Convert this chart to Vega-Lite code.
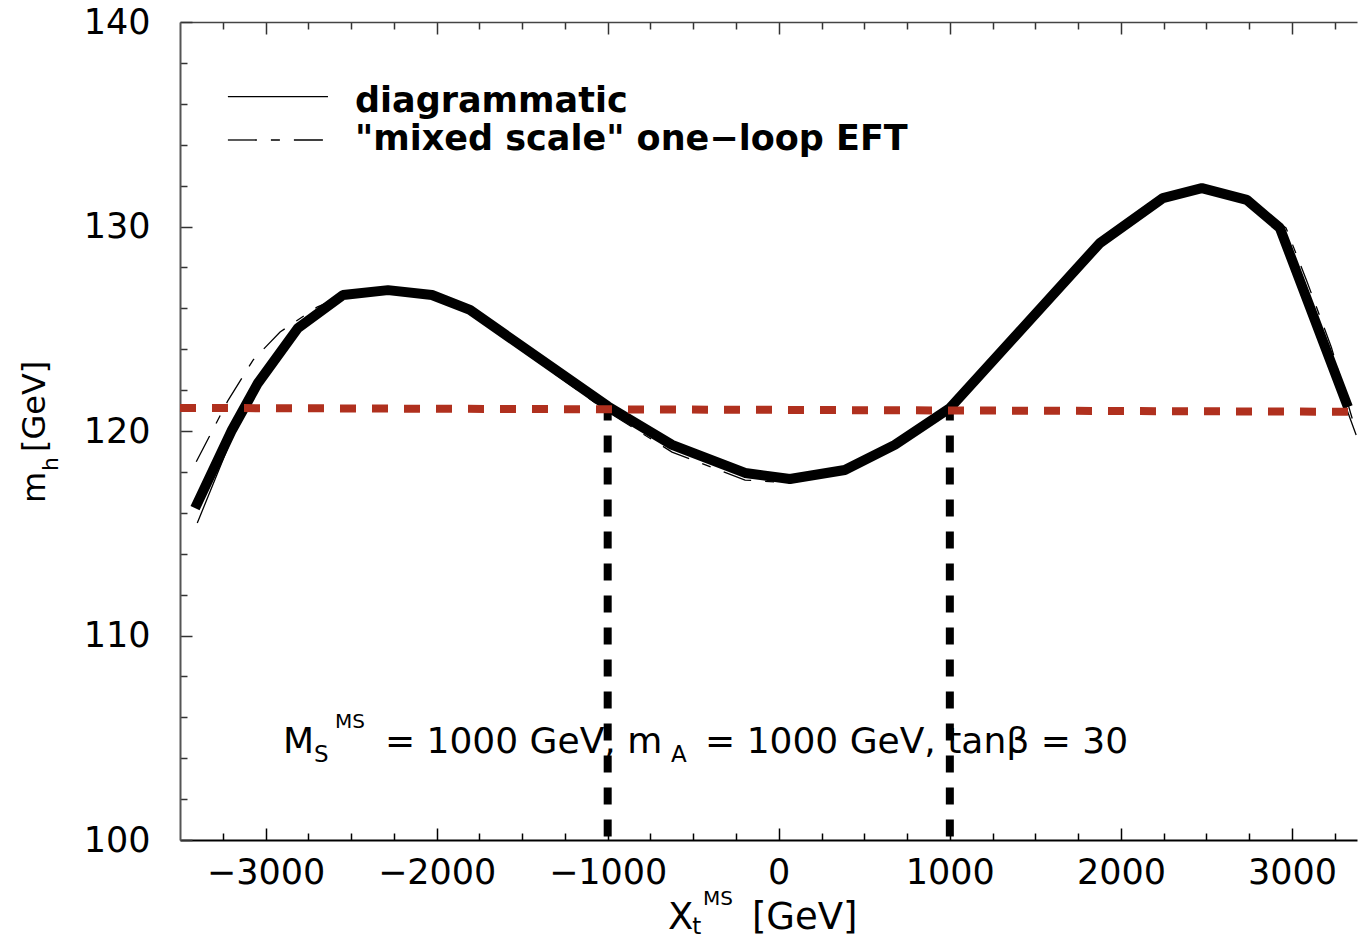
{
  "$schema": "https://vega.github.io/schema/vega-lite/v6.json",
  "width": 1177,
  "height": 818,
  "autosize": {"type": "none"},
  "padding": {"left": 180, "top": 22, "right": 2, "bottom": 98},
  "background": "white",
  "config": {"view": {"stroke": null}, "font": "DejaVu Sans"},
  "datasets": {
    "thick": [
      {"x": -3412, "y": 116.23}, {"x": -3196, "y": 120.05}, {"x": -3044, "y": 122.35},
      {"x": -2810, "y": 125.04}, {"x": -2547, "y": 126.65}, {"x": -2284, "y": 126.89},
      {"x": -2027, "y": 126.65}, {"x": -1805, "y": 125.92}, {"x": -998, "y": 121.2},
      {"x": -624, "y": 119.32}, {"x": -197, "y": 117.95}, {"x": 65, "y": 117.65},
      {"x": 386, "y": 118.09}, {"x": 678, "y": 119.32}, {"x": 1000, "y": 121.12},
      {"x": 1877, "y": 129.19}, {"x": 2245, "y": 131.39}, {"x": 2473, "y": 131.88},
      {"x": 2736, "y": 131.3}, {"x": 2929, "y": 129.93}, {"x": 3327, "y": 121.17}
    ],
    "diag": [
      {"x": -3399, "y": 115.5}, {"x": -3190, "y": 119.8}, {"x": -3040, "y": 122.2},
      {"x": -2800, "y": 124.95}, {"x": -2540, "y": 126.6}, {"x": -2280, "y": 126.88},
      {"x": -2020, "y": 126.6}, {"x": -1800, "y": 125.8}, {"x": -1000, "y": 121.1},
      {"x": -620, "y": 119.2}, {"x": -200, "y": 117.8}, {"x": 60, "y": 117.55},
      {"x": 390, "y": 118.0}, {"x": 680, "y": 119.25}, {"x": 1000, "y": 121.05},
      {"x": 1880, "y": 129.2}, {"x": 2245, "y": 131.4}, {"x": 2475, "y": 131.9},
      {"x": 2740, "y": 131.3}, {"x": 2935, "y": 129.9}, {"x": 3375, "y": 119.8}
    ],
    "mixed": [
      {"x": -3405, "y": 118.5}, {"x": -3219, "y": 121.5}, {"x": -3073, "y": 123.47},
      {"x": -2915, "y": 124.84}, {"x": -2699, "y": 126.06}, {"x": -2535, "y": 126.65},
      {"x": -2284, "y": 126.85}, {"x": -2027, "y": 126.55}, {"x": -1805, "y": 125.77},
      {"x": -998, "y": 120.93}, {"x": -624, "y": 118.97}, {"x": -197, "y": 117.6},
      {"x": 65, "y": 117.46}, {"x": 386, "y": 117.95}, {"x": 678, "y": 119.22},
      {"x": 1000, "y": 121.03}, {"x": 1877, "y": 129.19}, {"x": 2245, "y": 131.44},
      {"x": 2473, "y": 131.98}, {"x": 2736, "y": 131.39}, {"x": 2965, "y": 129.93},
      {"x": 3088, "y": 127.3}, {"x": 3230, "y": 124.1}, {"x": 3375, "y": 119.95}
    ],
    "red": [{"x": -3500, "y": 121.13}, {"x": 3328, "y": 120.94}],
    "vlines": [{"x": -1000, "y": 121.0, "y2": 100}, {"x": 1000, "y": 121.0, "y2": 100}],
    "legDiag": [{"x": -3220, "x2": -2635, "y": 136.35}],
    "legMixed": [{"x": -3220, "x2": -2635, "y": 134.23}],
    "legText": [
      {"x": -2477, "y": 135.61, "t": "diagrammatic"},
      {"x": -2477, "y": 133.74, "t": "\"mixed scale\" one−loop EFT"}
    ],
    "mainText": [
      {"x": -2898, "y": 104.25, "t": "M"},
      {"x": -2302, "y": 104.25, "t": "= 1000 GeV, m"},
      {"x": -431, "y": 104.25, "t": "= 1000 GeV, tanβ = 30"}
    ],
    "subText": [
      {"x": -2717, "y": 103.81, "t": "S"},
      {"x": -630, "y": 103.81, "t": "A"},
      {"x": -506, "y": 95.4, "t": "t"}
    ],
    "supText": [
      {"x": -2594, "y": 105.48, "t": "MS"},
      {"x": -443, "y": 96.82, "t": "MS"}
    ],
    "xTitle": [
      {"x": -647, "y": 95.65, "t": "X"},
      {"x": -157, "y": 95.65, "t": "[GeV]"}
    ],
    "yTitle": [
      {"x": -4289, "y": 116.48, "t": "m"},
      {"x": -4289, "y": 118.97, "t": "[GeV]"}
    ],
    "yTitleSub": [
      {"x": -4213, "y": 118.04, "t": "h"}
    ]
  },
  "layer": [
    {
      "data": {"name": "diag"},
      "mark": {"type": "line", "color": "black", "strokeWidth": 1.3},
      "encoding": {
        "x": {"field": "x", "type": "quantitative", "scale": {"domain": [-3500, 3380], "nice": false, "zero": false},
          "axis": {"orient": "bottom", "title": null, "grid": false,
            "values": [-3250,-3000,-2750,-2500,-2250,-2000,-1750,-1500,-1250,-1000,-750,-500,-250,0,250,500,750,1000,1250,1500,1750,2000,2250,2500,2750,3000,3250],
            "labelExpr": "datum.value % 1000 == 0 ? format(datum.value, 'd') : ''",
            "tickSize": {"condition": {"test": "datum.value % 1000 == 0", "value": -12}, "value": -7},
            "tickColor": "black", "tickWidth": 1.5, "domainColor": "black", "domainWidth": 2,
            "labelFont": "DejaVu Sans", "labelFontSize": 35, "labelColor": "black", "labelPadding": 27,
            "labelFlush": false, "labelOverlap": false, "labelBound": false}},
        "y": {"field": "y", "type": "quantitative", "scale": {"domain": [100, 140], "nice": false, "zero": false},
          "axis": {"orient": "left", "title": null, "grid": false,
            "values": [100,102,104,106,108,110,112,114,116,118,120,122,124,126,128,130,132,134,136,138,140],
            "labelExpr": "datum.value % 10 == 0 ? format(datum.value, 'd') : ''",
            "tickSize": {"condition": {"test": "datum.value % 10 == 0", "value": -12}, "value": -7},
            "tickColor": "#333", "tickWidth": 1.5, "domainColor": "#555", "domainWidth": 2,
            "labelFont": "DejaVu Sans", "labelFontSize": 35, "labelColor": "black", "labelPadding": 42,
            "labelFlush": false, "labelOverlap": false, "labelBound": false}}
      }
    },
    {
      "data": {"name": "mixed"},
      "mark": {"type": "line", "color": "black", "strokeWidth": 1.3, "strokeDash": [29, 14, 9, 14]},
      "encoding": {
        "x": {"field": "x", "type": "quantitative", "scale": {"domain": [-3500, 3380], "nice": false, "zero": false},
          "axis": {"orient": "top", "title": null, "grid": false, "labels": false,
            "values": [-3250,-3000,-2750,-2500,-2250,-2000,-1750,-1500,-1250,-1000,-750,-500,-250,0,250,500,750,1000,1250,1500,1750,2000,2250,2500,2750,3000,3250],
            "tickSize": {"condition": {"test": "datum.value % 1000 == 0", "value": -12}, "value": -7},
            "tickColor": "#333", "tickWidth": 1.5, "domainColor": "#444", "domainWidth": 1.5}},
        "y": {"field": "y", "type": "quantitative", "scale": {"domain": [100, 140], "nice": false, "zero": false}, "axis": null}
      }
    },
    {
      "data": {"name": "thick"},
      "mark": {"type": "line", "color": "black", "strokeWidth": 10, "strokeJoin": "bevel", "strokeCap": "butt"},
      "encoding": {
        "x": {"field": "x", "type": "quantitative", "scale": {"domain": [-3500, 3380], "nice": false, "zero": false}, "axis": null},
        "y": {"field": "y", "type": "quantitative", "scale": {"domain": [100, 140], "nice": false, "zero": false}, "axis": null}
      }
    },
    {
      "data": {"name": "vlines"},
      "mark": {"type": "rule", "color": "black", "strokeWidth": 8, "strokeDash": [17, 15], "strokeDashOffset": 7},
      "encoding": {
        "x": {"field": "x", "type": "quantitative", "scale": {"domain": [-3500, 3380], "nice": false, "zero": false}, "axis": null},
        "y": {"field": "y", "type": "quantitative", "scale": {"domain": [100, 140], "nice": false, "zero": false}, "axis": null},
        "y2": {"field": "y2"}
      }
    },
    {
      "data": {"name": "red"},
      "mark": {"type": "line", "color": "#b0301e", "strokeWidth": 8, "strokeDash": [16, 16]},
      "encoding": {
        "x": {"field": "x", "type": "quantitative", "scale": {"domain": [-3500, 3380], "nice": false, "zero": false}, "axis": null},
        "y": {"field": "y", "type": "quantitative", "scale": {"domain": [100, 140], "nice": false, "zero": false}, "axis": null}
      }
    },
    {
      "data": {"name": "legDiag"},
      "mark": {"type": "rule", "color": "black", "strokeWidth": 1.3},
      "encoding": {
        "x": {"field": "x", "type": "quantitative", "scale": {"domain": [-3500, 3380], "nice": false, "zero": false}, "axis": null},
        "x2": {"field": "x2"},
        "y": {"field": "y", "type": "quantitative", "scale": {"domain": [100, 140], "nice": false, "zero": false}, "axis": null}
      }
    },
    {
      "data": {"name": "legMixed"},
      "mark": {"type": "rule", "color": "black", "strokeWidth": 1.3, "strokeDash": [29, 14, 9, 14]},
      "encoding": {
        "x": {"field": "x", "type": "quantitative", "scale": {"domain": [-3500, 3380], "nice": false, "zero": false}, "axis": null},
        "x2": {"field": "x2"},
        "y": {"field": "y", "type": "quantitative", "scale": {"domain": [100, 140], "nice": false, "zero": false}, "axis": null}
      }
    },
    {
      "data": {"name": "legText"},
      "mark": {"type": "text", "font": "DejaVu Sans", "fontWeight": "bold", "fontSize": 35, "align": "left", "baseline": "alphabetic", "color": "black"},
      "encoding": {
        "x": {"field": "x", "type": "quantitative", "scale": {"domain": [-3500, 3380], "nice": false, "zero": false}, "axis": null},
        "y": {"field": "y", "type": "quantitative", "scale": {"domain": [100, 140], "nice": false, "zero": false}, "axis": null},
        "text": {"field": "t"}
      }
    },
    {
      "data": {"name": "mainText"},
      "mark": {"type": "text", "font": "DejaVu Sans", "fontSize": 36, "align": "left", "baseline": "alphabetic", "color": "black"},
      "encoding": {
        "x": {"field": "x", "type": "quantitative", "scale": {"domain": [-3500, 3380], "nice": false, "zero": false}, "axis": null},
        "y": {"field": "y", "type": "quantitative", "scale": {"domain": [100, 140], "nice": false, "zero": false}, "axis": null},
        "text": {"field": "t"}
      }
    },
    {
      "data": {"name": "subText"},
      "mark": {"type": "text", "font": "DejaVu Sans", "fontSize": 23, "align": "left", "baseline": "alphabetic", "color": "black"},
      "encoding": {
        "x": {"field": "x", "type": "quantitative", "scale": {"domain": [-3500, 3380], "nice": false, "zero": false}, "axis": null},
        "y": {"field": "y", "type": "quantitative", "scale": {"domain": [100, 140], "nice": false, "zero": false}, "axis": null},
        "text": {"field": "t"}
      }
    },
    {
      "data": {"name": "supText"},
      "mark": {"type": "text", "font": "DejaVu Sans", "fontSize": 20, "align": "left", "baseline": "alphabetic", "color": "black"},
      "encoding": {
        "x": {"field": "x", "type": "quantitative", "scale": {"domain": [-3500, 3380], "nice": false, "zero": false}, "axis": null},
        "y": {"field": "y", "type": "quantitative", "scale": {"domain": [100, 140], "nice": false, "zero": false}, "axis": null},
        "text": {"field": "t"}
      }
    },
    {
      "data": {"name": "xTitle"},
      "mark": {"type": "text", "font": "DejaVu Sans", "fontSize": 37, "align": "left", "baseline": "alphabetic", "color": "black"},
      "encoding": {
        "x": {"field": "x", "type": "quantitative", "scale": {"domain": [-3500, 3380], "nice": false, "zero": false}, "axis": null},
        "y": {"field": "y", "type": "quantitative", "scale": {"domain": [100, 140], "nice": false, "zero": false}, "axis": null},
        "text": {"field": "t"}
      }
    },
    {
      "data": {"name": "yTitle"},
      "mark": {"type": "text", "font": "DejaVu Sans", "fontSize": 32, "align": "left", "baseline": "alphabetic", "angle": 270, "color": "black"},
      "encoding": {
        "x": {"field": "x", "type": "quantitative", "scale": {"domain": [-3500, 3380], "nice": false, "zero": false}, "axis": null},
        "y": {"field": "y", "type": "quantitative", "scale": {"domain": [100, 140], "nice": false, "zero": false}, "axis": null},
        "text": {"field": "t"}
      }
    },
    {
      "data": {"name": "yTitleSub"},
      "mark": {"type": "text", "font": "DejaVu Sans", "fontSize": 22, "align": "left", "baseline": "alphabetic", "angle": 270, "color": "black"},
      "encoding": {
        "x": {"field": "x", "type": "quantitative", "scale": {"domain": [-3500, 3380], "nice": false, "zero": false}, "axis": null},
        "y": {"field": "y", "type": "quantitative", "scale": {"domain": [100, 140], "nice": false, "zero": false}, "axis": null},
        "text": {"field": "t"}
      }
    }
  ],
  "resolve": {"axis": {"x": "independent", "y": "independent"}}
}
